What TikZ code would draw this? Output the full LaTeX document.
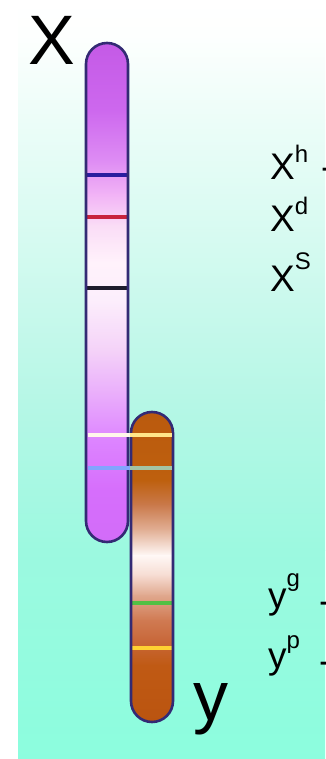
\documentclass[tikz,border=0pt]{standalone}
\usepackage{fontspec}
\setmainfont{Liberation Sans}

% background tints
\definecolor{bgA}{HTML}{FFFFFF}
\definecolor{bgB}{HTML}{FDFFFE}
\definecolor{bgC}{HTML}{ECFDF8}
\definecolor{bgD}{HTML}{D4FAF0}
\definecolor{bgE}{HTML}{B6F7E6}
\definecolor{bgF}{HTML}{9CF9E0}
\definecolor{bgG}{HTML}{8CFDDE}
% X chromosome tints
\definecolor{xa}{HTML}{C45AE6}
\definecolor{xb}{HTML}{CD68EE}
\definecolor{xc}{HTML}{DE8CF4}
\definecolor{xd}{HTML}{F2B4F6}
\definecolor{xe}{HTML}{FADCF6}
\definecolor{xf}{HTML}{FFF2FB}
\definecolor{xg}{HTML}{FCEEFC}
\definecolor{xh}{HTML}{F4D2F8}
\definecolor{xi}{HTML}{E8A8FC}
\definecolor{xj}{HTML}{DD84FF}
\definecolor{xk}{HTML}{D66EFC}
\definecolor{xl}{HTML}{D26CF8}
% Y chromosome tints
\definecolor{ya}{HTML}{BA5A0E}
\definecolor{yb}{HTML}{BE600E}
\definecolor{yc}{HTML}{CA7A4C}
\definecolor{yd}{HTML}{E2B096}
\definecolor{ye}{HTML}{FFF8F6}
\definecolor{yf}{HTML}{F6DCD2}
\definecolor{yg}{HTML}{E0A88E}
\definecolor{yh}{HTML}{D07A52}
\definecolor{yi}{HTML}{C8683A}
\definecolor{yj}{HTML}{C05A14}
\definecolor{yk}{HTML}{BA5410}
% outline and bands
\definecolor{chromline}{HTML}{332A74}
\definecolor{bandblue}{HTML}{2A1CA0}
\definecolor{bandred}{HTML}{C8243E}
\definecolor{bandblack}{HTML}{1E1C2C}
\definecolor{bandcream}{HTML}{FFF6EA}
\definecolor{bandyellowpale}{HTML}{FFE68A}
\definecolor{bandsky}{HTML}{82A4FF}
\definecolor{bandsage}{HTML}{A4C4A4}
\definecolor{bandgreen}{HTML}{52C044}
\definecolor{bandyellow}{HTML}{FFD232}

\begin{document}
\begin{tikzpicture}[x=1pt,y=-1pt,
  chromosome/.style={draw=chromline, line width=2.6pt, rounded corners=21pt},
  band/.style={line width=4pt},
  biglabel/.style={inner sep=0pt, anchor=base, font=\fontsize{70}{70}\selectfont},
  genelabel/.style={inner sep=0pt, anchor=base west, font=\fontsize{37}{37}\selectfont},
  edgemark/.style={inner sep=0pt, anchor=base west, font=\fontsize{37}{37}\selectfont}]

\useasboundingbox (0,0) rectangle (325,759);

% backdrop: white strip at left, tinted gradient elsewhere
\fill[white] (0,0) rectangle (325,759);
\foreach \ya/\yb/\ca/\cb in {0/35/bgA/bgB, 35/120/bgB/bgC, 120/250/bgC/bgD,
    250/400/bgD/bgE, 400/550/bgE/bgF, 550/759/bgF/bgG}
  \shade[top color=\ca, bottom color=\cb] (18,\ya) rectangle (325,\yb+0.6);

% X chromosome body
\begin{scope}
  \clip[rounded corners=21pt] (86,43) rectangle (128,542);
  \foreach \ya/\yb/\ca/\cb in {43/110/xa/xb, 110/160/xb/xc, 160/195/xc/xd,
      195/225/xd/xe, 225/262/xe/xf, 262/300/xf/xg, 300/350/xg/xh,
      350/400/xh/xi, 400/440/xi/xj, 440/490/xj/xk, 490/542/xk/xl}
    \shade[top color=\ca, bottom color=\cb] (86,\ya) rectangle (128,\yb+0.6);
  \draw[band, bandblue] (86,175) -- (128,175);
  \draw[band, bandred] (86,217) -- (128,217);
  \draw[band, bandblack] (86,288) -- (128,288);
\end{scope}

% Y chromosome body
\begin{scope}
  \clip[rounded corners=21pt] (131,412) rectangle (173,722);
  \foreach \ya/\yb/\ca/\cb in {412/480/ya/yb, 480/505/yb/yc, 505/530/yc/yd,
      530/555/yd/ye, 555/575/ye/yf, 575/595/yf/yg, 595/620/yg/yh,
      620/640/yh/yi, 640/665/yi/yj, 665/722/yj/yk}
    \shade[top color=\ca, bottom color=\cb] (131,\ya) rectangle (173,\yb+0.6);
  \draw[band, bandgreen] (131,603) -- (173,603);
  \draw[band, bandyellow] (131,648) -- (173,648);
\end{scope}

% outlines
\draw[chromosome] (86,43) rectangle (128,542);
\draw[chromosome] (131,412) rectangle (173,722);

% bands shared by both chromosomes
\draw[band, bandcream] (87.5,435) -- (129.5,435);
\draw[band, bandyellowpale] (129.5,435) -- (171.7,435);
\draw[band, bandsky] (87.5,468) -- (129.5,468);
\draw[band, bandsage] (129.5,468) -- (171.7,468);

% chromosome names
\node[biglabel] (xname) at (52,65) {X};
\node[biglabel] (yname) at (211,720) {y};

% allele labels
\node[genelabel] (xh) at (270,180) {X\raisebox{17pt}{\fontsize{24}{24}\selectfont h}};
\node[genelabel] (xd) at (270,231) {X\raisebox{17pt}{\fontsize{24}{24}\selectfont d}};
\node[genelabel] (xs) at (270,291) {X\raisebox{22pt}{\fontsize{24}{24}\selectfont S}};
\node[genelabel] (yg) at (268,608) {y\raisebox{22pt}{\fontsize{24}{24}\selectfont g}};
\node[genelabel] (yp) at (268,668) {y\raisebox{20pt}{\fontsize{24}{24}\selectfont p}};

% trailing marks running off the right edge
\node[edgemark] (xhm) at (321,180) {-};
\node[edgemark] (ygm) at (319,613) {-};
\node[edgemark] (ypm) at (319,673) {-};
\end{tikzpicture}
\end{document}
